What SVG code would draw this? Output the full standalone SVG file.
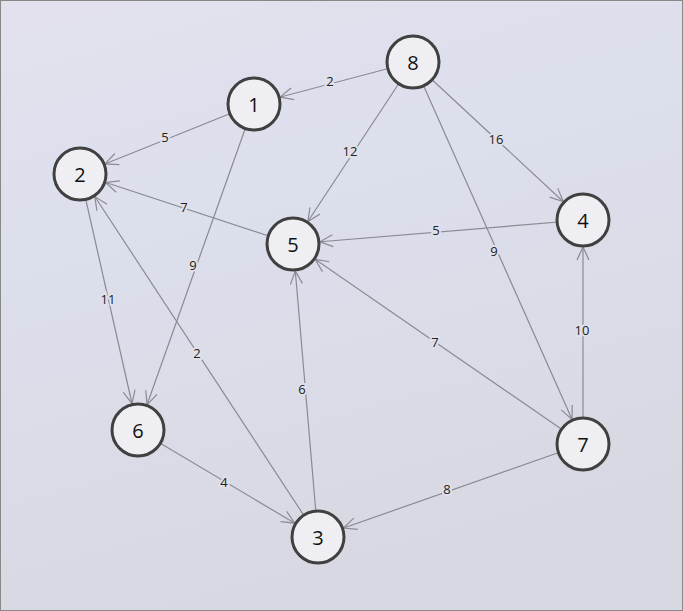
<svg xmlns="http://www.w3.org/2000/svg" width="683" height="611" viewBox="0 0 683 611">
<defs>
<linearGradient id="bg" x1="0" y1="0" x2="0.3" y2="1">
<stop offset="0" stop-color="#e3e1ee"/><stop offset="0.4" stop-color="#dcdfec"/><stop offset="1" stop-color="#d8d8e2"/>
</linearGradient>
<marker id="a" markerUnits="userSpaceOnUse" markerWidth="10" markerHeight="10" refX="0" refY="0" orient="auto" overflow="visible">
<path d="M-40,-6 L-27,0 L-40,6" fill="none" stroke="#8a8a94" stroke-width="1.2"/>
</marker>
<style>
.e line{stroke:#8a8a94;stroke-width:1.2;marker-end:url(#a)}
.n circle{fill:#eeeef3;stroke:#404040;stroke-width:3}
.n text{font:20px "Open Sans",sans-serif;fill:#111;text-anchor:middle;dominant-baseline:central}
.l text{font:13px "Open Sans",sans-serif;fill:#222;text-anchor:middle;dominant-baseline:central;stroke:#e0e0ea;stroke-width:4;paint-order:stroke}
</style>
</defs>
<rect x="0.5" y="0.5" width="682" height="610" fill="url(#bg)" stroke="#888"/>
<g class="e" id="connectors">
<line x1="413" y1="62" x2="254" y2="104"/>
<line x1="254" y1="104" x2="80" y2="174"/>
<line x1="413" y1="62" x2="293" y2="244"/>
<line x1="413" y1="62" x2="583" y2="220"/>
<line x1="293" y1="244" x2="80" y2="174"/>
<line x1="583" y1="220" x2="293" y2="244"/>
<line x1="413" y1="62" x2="583" y2="444"/>
<line x1="254" y1="104" x2="138" y2="430"/>
<line x1="80" y1="174" x2="138" y2="430"/>
<line x1="318" y1="537" x2="80" y2="174"/>
<line x1="318" y1="537" x2="293" y2="244"/>
<line x1="583" y1="444" x2="293" y2="244"/>
<line x1="583" y1="444" x2="583" y2="220"/>
<line x1="138" y1="430" x2="318" y2="537"/>
<line x1="583" y1="444" x2="318" y2="537"/>
</g>
<g class="l" id="labels">
<text x="330" y="81">2</text><text x="165" y="137">5</text><text x="350" y="151">12</text>
<text x="496" y="139">16</text><text x="184" y="207">7</text><text x="436" y="230">5</text>
<text x="494" y="251">9</text><text x="193" y="265">9</text><text x="108" y="299">11</text>
<text x="197" y="353">2</text><text x="302" y="389">6</text><text x="435" y="342">7</text>
<text x="582" y="330">10</text><text x="224" y="482">4</text><text x="447" y="489">8</text>
</g>
<g class="n" id="n8"><circle cx="413" cy="62" r="26"/><text x="413" y="62">8</text></g>
<g class="n" id="n1"><circle cx="254" cy="104" r="26"/><text x="254" y="104">1</text></g>
<g class="n" id="n2"><circle cx="80" cy="174" r="26"/><text x="80" y="174">2</text></g>
<g class="n" id="n4"><circle cx="583" cy="220" r="26"/><text x="583" y="220">4</text></g>
<g class="n" id="n5"><circle cx="293" cy="244" r="26"/><text x="293" y="244">5</text></g>
<g class="n" id="n6"><circle cx="138" cy="430" r="26"/><text x="138" y="430">6</text></g>
<g class="n" id="n7"><circle cx="583" cy="444" r="26"/><text x="583" y="444">7</text></g>
<g class="n" id="n3"><circle cx="318" cy="537" r="26"/><text x="318" y="537">3</text></g>
</svg>
